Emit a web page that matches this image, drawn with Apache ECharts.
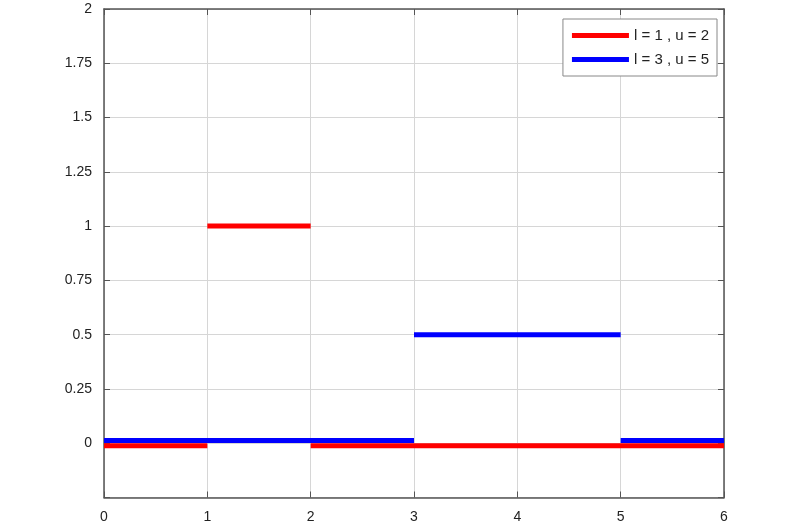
<!DOCTYPE html>
<html>
<head>
<meta charset="utf-8">
<script src="https://cdn.jsdelivr.net/npm/echarts@6/dist/echarts.min.js"></script>
<style>html,body{margin:0;padding:0;background:#fff}#c{width:800px;height:525px}</style>
</head>
<body>
<div id="c"></div>
<script>
// Data
const seriesNames = ['l = 1 , u = 2', 'l = 3 , u = 5'];
// step segments: [x, y]; null separates segments
const redData = [[0, -0.012], [1, -0.012], null, [1, 1], [2, 1], null, [2, -0.012], [6, -0.012]];
const blueData = [[0, 0.012], [3, 0.012], null, [3, 0.5], [5, 0.5], null, [5, 0.012], [6, 0.012]];
const xTicks = [0, 1, 2, 3, 4, 5, 6];
const yTicks = [-0.25, 0, 0.25, 0.5, 0.75, 1, 1.25, 1.5, 1.75, 2];

const font = 'Liberation Sans, Arial, sans-serif';
const axisCol = '#555';
const gridCol = '#d6d6d6';

function toSeriesData(arr) {
  return arr.map(p => p === null ? ['-', '-'] : p);
}

const chart = echarts.init(document.getElementById('c'), null, {renderer: 'canvas'});
chart.setOption({
  animation: false,
  backgroundColor: '#fff',
  grid: {left: 104, right: 76, top: 9, bottom: 27.5, containLabel: false},
  legend: {
    orient: 'vertical',
    right: 83,
    top: 19,
    padding: [9, 8, 9, 9],
    itemGap: 9,
    itemWidth: 57,
    itemHeight: 5,
    icon: 'rect',
    borderColor: '#888',
    borderWidth: 1,
    backgroundColor: '#fff',
    textStyle: {fontFamily: font, fontSize: 15, color: '#222', lineHeight: 14},
    data: seriesNames
  },
  xAxis: [{
    type: 'value', min: xTicks[0], max: xTicks[xTicks.length - 1], interval: 1,
    axisLine: {show: true, onZero: false, lineStyle: {color: axisCol, width: 1.5}},
    axisTick: {show: true, inside: true, length: 6, lineStyle: {color: axisCol}},
    axisLabel: {fontFamily: font, fontSize: 14, color: '#222', margin: 13},
    splitLine: {show: true, lineStyle: {color: gridCol, width: 1}}
  }, {
    type: 'value', position: 'top', min: xTicks[0], max: xTicks[xTicks.length - 1], interval: 1,
    axisLine: {show: true, onZero: false, lineStyle: {color: axisCol, width: 1.5}},
    axisTick: {show: true, inside: true, length: 6, lineStyle: {color: axisCol}},
    axisLabel: {show: false},
    splitLine: {show: false}
  }],
  yAxis: [{
    type: 'value', min: yTicks[0], max: yTicks[yTicks.length - 1], interval: 0.25,
    axisLine: {show: true, onZero: false, lineStyle: {color: axisCol, width: 1.5}},
    axisTick: {show: true, inside: true, length: 6, lineStyle: {color: axisCol}},
    axisLabel: {fontFamily: font, fontSize: 14, color: '#222', margin: 12,
      formatter: v => (v < 0 ? '' : String(v))},
    splitLine: {show: true, lineStyle: {color: gridCol, width: 1}}
  }, {
    type: 'value', position: 'right', min: yTicks[0], max: yTicks[yTicks.length - 1], interval: 0.25,
    axisLine: {show: true, onZero: false, lineStyle: {color: axisCol, width: 1.5}},
    axisTick: {show: true, inside: true, length: 6, lineStyle: {color: axisCol}},
    axisLabel: {show: false},
    splitLine: {show: false}
  }],
  series: [{
    name: seriesNames[0], type: 'line', data: toSeriesData(redData),
    showSymbol: false, symbol: 'none', connectNulls: false,
    itemStyle: {color: '#ff0000'},
    lineStyle: {color: '#ff0000', width: 5, cap: 'butt'}
  }, {
    name: seriesNames[1], type: 'line', data: toSeriesData(blueData),
    showSymbol: false, symbol: 'none', connectNulls: false,
    itemStyle: {color: '#0000ff'},
    lineStyle: {color: '#0000ff', width: 5, cap: 'butt'}
  }]
});
</script>
</body>
</html>
